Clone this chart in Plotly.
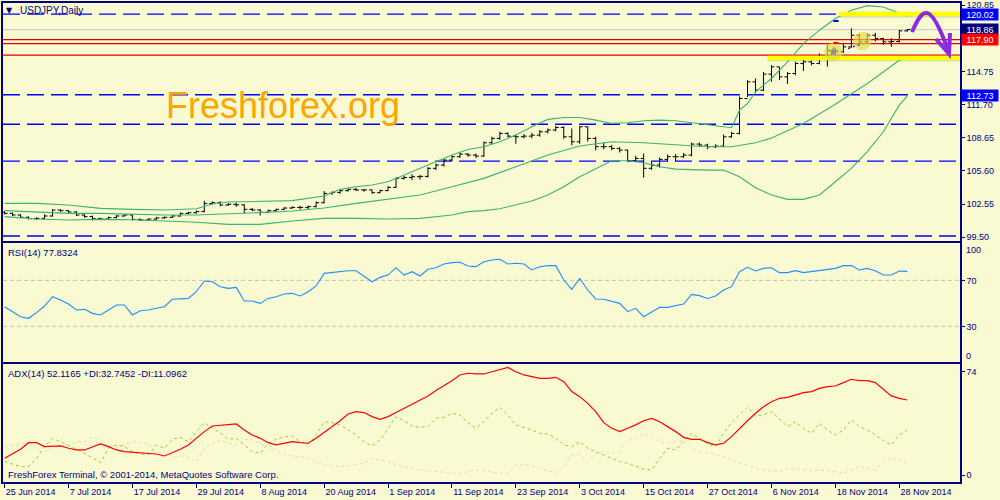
import plotly.graph_objects as go

# ---------------- data ----------------
tick_idx = [0, 8, 16, 24, 32, 40, 48, 56, 64, 72, 80, 88, 96, 104, 112]
tick_text = ["25 Jun 2014", "7 Jul 2014", "17 Jul 2014", "29 Jul 2014", "8 Aug 2014",
             "20 Aug 2014", "1 Sep 2014", "11 Sep 2014", "23 Sep 2014", "3 Oct 2014",
             "15 Oct 2014", "27 Oct 2014", "6 Nov 2014", "18 Nov 2014", "28 Nov 2014"]

opens = [101.80, 101.70, 101.55, 101.34, 101.21, 101.24, 101.46, 102.01, 101.95, 101.83,
         101.55, 101.40, 101.21, 101.18, 101.31, 101.46, 101.55, 101.15, 101.09, 101.18,
         101.28, 101.34, 101.46, 101.70, 101.76, 101.86, 102.62, 102.68, 102.47, 102.53,
         102.48, 102.07, 102.01, 101.80, 101.95, 102.07, 102.19, 102.25, 102.25, 102.32,
         102.68, 103.54, 103.63, 103.79, 103.91, 103.85, 103.85, 103.60, 103.79, 104.09,
         104.92, 105.00, 105.07, 105.10, 105.84, 106.14, 106.60, 106.91, 107.15, 107.06,
         106.97, 108.19, 108.59, 109.05, 108.80, 108.74, 108.80, 108.89, 109.20, 109.36,
         109.60, 108.74, 108.28, 109.66, 108.59, 107.83, 107.83, 107.67, 107.52, 106.54,
         106.75, 105.84, 106.14, 106.66, 106.91, 106.91, 107.06, 108.07, 107.98, 107.83,
         107.89, 108.74, 109.05, 112.26, 113.79, 113.03, 114.50, 115.17, 114.25, 114.56,
         115.48, 115.63, 115.48, 116.09, 116.70, 116.55, 117.01, 118.08, 117.47, 118.08,
         117.77, 117.47, 117.50, 118.48]
highs = [101.88, 101.78, 101.62, 101.42, 101.35, 101.62, 102.08, 102.10, 102.00, 101.90,
         101.62, 101.50, 101.30, 101.40, 101.55, 101.60, 101.60, 101.22, 101.25, 101.38,
         101.42, 101.55, 101.78, 101.85, 101.98, 102.85, 102.80, 102.82, 102.65, 102.70,
         102.55, 102.20, 102.10, 102.05, 102.15, 102.28, 102.35, 102.40, 102.42, 102.80,
         103.75, 103.72, 103.90, 104.00, 104.05, 103.95, 103.90, 103.88, 104.20, 105.00,
         105.15, 105.30, 105.25, 105.95, 106.30, 106.70, 107.05, 107.30, 107.25, 107.20,
         108.30, 108.75, 109.20, 109.15, 108.95, 109.00, 109.10, 109.35, 109.50, 109.75,
         109.70, 109.50, 109.72, 109.70, 108.75, 108.20, 108.00, 107.80, 107.55, 107.00,
         107.20, 106.45, 106.85, 107.10, 107.15, 107.25, 108.20, 108.20, 108.10, 108.05,
         108.95, 109.20, 112.45, 113.95, 114.10, 114.70, 115.33, 115.17, 114.70, 115.65,
         115.80, 115.75, 116.40, 117.20, 116.95, 117.30, 118.70, 118.20, 118.25, 118.30,
         117.85, 117.80, 118.55, 118.65]
lows = [101.60, 101.45, 101.28, 101.15, 101.12, 101.18, 101.40, 101.82, 101.70, 101.45,
        101.30, 101.05, 101.08, 101.10, 101.25, 101.40, 101.05, 101.00, 101.02, 101.10,
        101.20, 101.28, 101.40, 101.62, 101.68, 101.80, 102.50, 102.35, 102.38, 102.30,
        101.70, 101.90, 101.50, 101.72, 101.88, 102.00, 102.12, 102.05, 102.10, 102.25,
        102.62, 103.40, 103.50, 103.70, 103.75, 103.70, 103.50, 103.55, 103.75, 104.05,
        104.80, 104.75, 104.80, 105.00, 105.70, 106.00, 106.50, 106.80, 106.90, 106.80,
        106.90, 108.05, 108.45, 108.70, 108.10, 108.60, 108.60, 108.75, 109.05, 109.25,
        108.55, 107.95, 108.10, 108.30, 107.50, 107.60, 107.50, 107.30, 106.50, 106.40,
        104.98, 105.70, 105.90, 106.50, 106.50, 106.80, 106.95, 107.85, 107.60, 107.70,
        107.80, 108.65, 108.95, 112.40, 112.80, 112.95, 113.80, 113.95, 113.60, 114.40,
        114.80, 115.30, 115.40, 115.20, 116.30, 116.45, 116.90, 117.10, 117.30, 117.50,
        117.20, 117.00, 117.40, 118.40]
closes = [101.70, 101.55, 101.34, 101.21, 101.24, 101.46, 102.01, 101.95, 101.83, 101.55,
          101.40, 101.21, 101.18, 101.31, 101.46, 101.55, 101.15, 101.09, 101.18, 101.28,
          101.34, 101.46, 101.70, 101.76, 101.86, 102.62, 102.68, 102.47, 102.53, 102.48,
          102.07, 102.01, 101.80, 101.95, 102.07, 102.19, 102.25, 102.25, 102.32, 102.68,
          103.54, 103.63, 103.79, 103.91, 103.85, 103.85, 103.60, 103.79, 104.09, 104.92,
          105.00, 105.07, 105.10, 105.84, 106.14, 106.60, 106.91, 107.15, 107.06, 106.97,
          108.19, 108.59, 109.05, 108.80, 108.74, 108.80, 108.89, 109.20, 109.36, 109.60,
          108.74, 108.28, 109.66, 108.59, 107.83, 107.83, 107.67, 107.52, 106.54, 106.75,
          105.84, 106.14, 106.66, 106.91, 106.91, 107.06, 108.07, 107.98, 107.83, 107.89,
          108.74, 109.05, 112.26, 113.79, 113.03, 114.50, 115.17, 114.25, 114.56, 115.48,
          115.63, 115.48, 116.09, 116.70, 116.55, 117.01, 118.08, 117.47, 118.08, 117.77,
          117.47, 117.50, 118.48, 118.60]

bb_upper_idx = [0, 4, 8, 12, 16, 20, 24, 26, 28, 32, 36, 40, 42, 44, 46, 48, 50, 52, 54, 56,
                58, 60, 62, 64, 66, 68, 70, 72, 74, 76, 78, 80, 82, 84, 86, 88, 90, 91, 92, 93,
                94, 96, 98, 100, 102, 104, 106, 108, 110, 112, 113]
bb_upper = [102.62, 102.62, 102.47, 102.16, 102.07, 102.01, 102.13, 102.56, 102.74, 102.78,
            102.87, 103.30, 103.91, 104.15, 104.31, 104.61, 105.22, 105.84, 106.45, 107.06,
            107.58, 107.83, 108.29, 108.90, 109.66, 110.34, 110.52, 110.52, 110.27, 109.97,
            110.03, 110.21, 110.27, 110.21, 110.03, 109.85, 109.66, 109.57, 111.19, 111.80,
            112.88, 114.10, 115.63, 117.31, 118.54, 119.61, 120.38, 120.80, 120.68, 120.07,
            119.82]
bb_mid_idx = [0, 4, 8, 12, 16, 20, 24, 28, 32, 36, 40, 44, 48, 52, 56, 60, 64, 68, 72, 76,
              80, 84, 88, 91, 94, 96, 100, 104, 108, 112, 113]
bb_mid = [101.95, 101.80, 101.70, 101.70, 101.61, 101.55, 101.55, 101.64, 101.77, 101.92,
          102.19, 102.62, 103.02, 103.39, 104.15, 104.92, 105.99, 107.06, 107.89, 108.29,
          108.19, 108.01, 107.83, 107.83, 108.19, 108.62, 109.97, 111.74, 113.64, 115.78,
          116.03]
bb_lower_idx = [0, 4, 8, 12, 16, 20, 24, 28, 32, 36, 40, 44, 48, 52, 56, 58, 60, 62, 64, 66,
                68, 70, 72, 74, 76, 78, 80, 82, 84, 88, 90, 92, 94, 96, 98, 100, 102, 104, 106,
                108, 110, 112, 113]
bb_lower = [101.40, 101.18, 101.09, 101.15, 101.12, 101.03, 100.88, 100.69, 100.69, 101.00,
            101.24, 101.24, 101.18, 101.24, 101.55, 101.86, 101.95, 102.13, 102.47, 102.84,
            103.39, 104.15, 105.07, 105.84, 106.54, 106.54, 106.36, 105.99, 105.77, 105.68,
            105.68, 105.07, 104.06, 103.39, 102.99, 102.99, 103.39, 104.61, 105.84, 107.37,
            109.20, 111.65, 112.48]

rsi = [47.1, 42.8, 38.4, 37.0, 41.9, 47.7, 55.8, 52.9, 49.4, 44.2,
       44.8, 41.3, 39.9, 44.2, 48.6, 48.6, 39.9, 43.6, 44.2, 45.7,
       47.1, 53.5, 53.8, 54.3, 60.1, 69.4, 68.8, 64.5, 63.0, 63.9,
       52.0, 52.0, 50.0, 54.3, 55.8, 58.1, 58.7, 56.4, 60.1, 65.1,
       76.1, 77.0, 77.5, 78.4, 78.4, 73.2, 68.8, 72.6, 74.6, 81.0,
       74.6, 77.5, 73.8, 79.6, 81.0, 84.2, 85.4, 85.7, 82.5, 81.9,
       86.2, 87.7, 88.3, 84.2, 84.8, 84.2, 79.0, 81.9, 82.8, 82.8,
       70.3, 62.2, 71.7, 61.6, 53.8, 53.5, 52.0, 50.0, 42.8, 45.7,
       38.4, 42.2, 46.5, 46.5, 47.7, 49.4, 57.8, 56.7, 54.3, 56.4,
       61.6, 64.5, 77.5, 81.3, 78.1, 80.4, 81.0, 76.7, 76.7, 78.4,
       76.7, 77.5, 78.4, 79.6, 80.4, 82.8, 82.8, 79.0, 80.4, 78.4,
       74.6, 74.6, 78.1, 77.8]

adx = [12.1, 15.2, 18.6, 23.3, 23.3, 20.5, 21.0, 21.0, 19.3, 18.1,
       18.1, 20.5, 22.4, 20.5, 18.1, 16.9, 16.4, 16.4, 15.7, 15.2,
       13.8, 16.2, 18.6, 21.7, 26.4, 31.2, 35.2, 35.7, 36.0, 36.7,
       32.4, 28.8, 26.4, 23.3, 21.7, 22.9, 24.0, 23.3, 22.9, 26.4,
       30.5, 34.8, 39.0, 43.8, 45.5, 44.8, 41.9, 40.0, 41.9, 44.8,
       47.9, 51.0, 53.8, 56.7, 60.5, 64.0, 67.6, 71.7, 72.9, 72.4,
       72.4, 74.0, 75.7, 77.1, 74.0, 71.7, 70.5, 69.3, 69.3, 70.0,
       66.9, 59.8, 56.2, 51.4, 45.5, 37.6, 33.6, 31.2, 33.6, 36.0,
       39.0, 40.7, 38.3, 34.8, 31.2, 27.1, 25.7, 25.7, 23.3, 21.7,
       22.9, 27.6, 33.6, 39.0, 44.3, 49.0, 52.6, 55.0, 55.7, 57.4,
       59.0, 59.8, 62.1, 63.3, 63.8, 66.2, 68.6, 67.6, 67.6, 66.2,
       61.4, 56.7, 55.0, 53.8]
plus_di = [9.8, 8.1, 6.2, 6.2, 12.1, 20.5, 26.4, 24.0, 21.0, 18.6,
           15.7, 12.1, 9.0, 19.3, 21.7, 20.5, 16.9, 15.2, 14.5, 21.7,
           19.3, 25.7, 27.1, 24.0, 31.2, 37.6, 33.6, 30.5, 25.7, 26.4,
           21.7, 16.9, 15.7, 22.9, 25.7, 27.6, 28.1, 24.0, 22.4, 28.8,
           38.3, 37.6, 36.0, 32.4, 28.8, 24.0, 21.0, 25.2, 33.6, 41.9,
           39.0, 35.2, 34.3, 34.8, 40.7, 41.4, 44.3, 43.1, 37.6, 33.6,
           38.3, 44.3, 48.6, 43.1, 36.0, 34.3, 32.4, 30.0, 29.5, 26.4,
           21.7, 20.5, 24.0, 19.3, 16.9, 14.5, 12.1, 9.8, 8.6, 6.2,
           4.3, 3.8, 12.1, 19.3, 18.1, 24.0, 30.0, 26.4, 22.4, 20.5,
           30.0, 37.6, 43.1, 48.6, 42.4, 43.1, 45.5, 40.0, 34.8, 38.3,
           33.6, 30.0, 37.1, 32.4, 28.8, 32.4, 39.5, 34.8, 32.4, 28.8,
           24.8, 21.7, 28.8, 32.4]
minus_di = [20.5, 21.7, 22.9, 23.3, 19.3, 16.9, 19.3, 21.0, 21.7, 24.0,
            24.0, 27.6, 25.2, 20.5, 20.5, 21.7, 24.0, 23.3, 22.9, 15.7,
            16.9, 13.3, 13.8, 12.9, 9.8, 19.3, 22.9, 25.2, 22.9, 21.7,
            25.7, 25.2, 22.9, 19.3, 18.1, 15.2, 13.8, 13.3, 12.1, 9.8,
            7.4, 6.7, 6.2, 6.7, 7.4, 8.6, 12.1, 11.0, 9.8, 7.4,
            6.2, 5.0, 3.8, 3.3, 2.6, 1.9, 1.4, 1.4, 2.6, 3.8,
            3.3, 2.6, 1.4, 1.4, 7.4, 7.9, 6.2, 5.0, 3.3, 1.9,
            6.2, 14.5, 15.2, 9.8, 15.7, 16.9, 15.7, 16.9, 25.2, 25.7,
            30.0, 27.6, 24.0, 22.9, 24.0, 25.2, 19.3, 16.9, 16.4, 14.5,
            13.3, 11.0, 8.6, 7.4, 5.0, 3.8, 3.3, 2.6, 5.0, 4.3,
            3.8, 3.3, 3.8, 3.3, 2.6, 1.4, 3.8, 6.2, 5.0, 3.8,
            9.8, 12.1, 11.4, 9.0]

price_ticks = [99.50, 102.55, 105.60, 108.65, 111.70, 114.75, 120.85]
blue_levels = [120.02, 112.60, 109.90, 106.50, 99.62]
red_levels = [117.68, 117.31, 116.24]
bid_level = 118.60
yellow_levels = [120.02, 115.99]
yellow_start = [104.5, 95.5]
box_labels = [("120.02", 120.00, "#0000FF"), ("118.86", 118.63, "#00007A"),
              ("117.90", 117.66, "#FF0000"), ("112.73", 112.56, "#0000FF")]
circle_centers = [(103.75, 116.54), (107.35, 117.55)]

bar_x = list(range(len(closes)))

BG = "#FAFAD2"
NAVY = "#000080"
FONT = "Liberation Sans, Arial, sans-serif"
X_RANGE = [-0.2, 119.6]

# layout helpers (pixel -> paper)
def px_x(px):
    return (px - 3) / 957.0

def px_y(py):
    return (482 - py) / 479.0

fig = go.Figure()

fig.add_trace(go.Ohlc(x=bar_x, open=opens, high=highs, low=lows, close=closes,
                      increasing=dict(line=dict(color="black", width=1)),
                      decreasing=dict(line=dict(color="black", width=1)),
                      tickwidth=0.38, xaxis="x", yaxis="y", hoverinfo="skip"))
for ix, vals in [(bb_upper_idx, bb_upper), (bb_mid_idx, bb_mid), (bb_lower_idx, bb_lower)]:
    fig.add_trace(go.Scatter(x=ix, y=vals, mode="lines",
                             line=dict(color="#3CB371", width=1.1),
                             xaxis="x", yaxis="y", hoverinfo="skip"))

fig.add_trace(go.Scatter(x=bar_x, y=rsi, mode="lines", line=dict(color="#1E90FF", width=1.1),
                         xaxis="x2", yaxis="y2", hoverinfo="skip"))

fig.add_trace(go.Scatter(x=bar_x, y=minus_di, mode="lines",
                         line=dict(color="#F5D3B0", width=1, dash="3px,3px"),
                         xaxis="x3", yaxis="y3", hoverinfo="skip"))
fig.add_trace(go.Scatter(x=bar_x, y=plus_di, mode="lines",
                         line=dict(color="#9ACD32", width=1, dash="3px,3px"),
                         xaxis="x3", yaxis="y3", hoverinfo="skip"))
fig.add_trace(go.Scatter(x=bar_x, y=adx, mode="lines", line=dict(color="#FF0000", width=1.2),
                         xaxis="x3", yaxis="y3", hoverinfo="skip"))

# trade marker
fig.add_trace(go.Scatter(x=[circle_centers[0][0]], y=[circle_centers[0][1]], mode="markers",
                         marker=dict(symbol="star", size=8, color="#0000FF"),
                         xaxis="x", yaxis="y", hoverinfo="skip"))

shapes = []
for lv in blue_levels:
    shapes.append(dict(type="line", xref="x domain", yref="y", x0=0, x1=1, y0=lv, y1=lv,
                       line=dict(color="#0000FF", width=1.4, dash="17px,7px"), layer="below"))
for lv in red_levels:
    shapes.append(dict(type="line", xref="x domain", yref="y", x0=0, x1=1, y0=lv, y1=lv,
                       line=dict(color="#E00000", width=1.2), layer="below"))
shapes.append(dict(type="line", xref="x domain", yref="y", x0=0, x1=1, y0=bid_level, y1=bid_level,
                   line=dict(color="#D0D0D0", width=1.2), layer="below"))
for lv in [70, 30]:
    shapes.append(dict(type="line", xref="x2 domain", yref="y2", x0=0, x1=1, y0=lv, y1=lv,
                       line=dict(color="#C0C0C0", width=1, dash="4px,3px"), layer="below"))
# yellow drawn levels
for lv, x0 in zip(yellow_levels, yellow_start):
    shapes.append(dict(type="line", xref="x", yref="y", x0=x0, x1=X_RANGE[1], y0=lv - 0.2, y1=lv - 0.2,
                       line=dict(color="rgba(0,0,0,0.12)", width=3), layer="above"))
    shapes.append(dict(type="line", xref="x", yref="y", x0=x0, x1=X_RANGE[1], y0=lv, y1=lv,
                       line=dict(color="#FFFF00", width=4.5), layer="above"))
# highlight circles
for cx, cy in circle_centers:
    shapes.append(dict(type="circle", xref="x", yref="y", x0=cx - 1.15, x1=cx + 1.15,
                       y0=cy - 0.85, y1=cy + 0.85, fillcolor="rgba(225,220,70,0.65)",
                       line=dict(width=0), layer="above"))
# small trade marks
shapes.append(dict(type="line", xref="x", yref="y", x0=103.75, x1=104.4, y0=119.39, y1=119.39,
                   line=dict(color="#0000FF", width=2)))
shapes.append(dict(type="line", xref="x", yref="y", x0=103.75, x1=104.4, y0=117.37, y1=117.37,
                   line=dict(color="#FF0000", width=2)))
shapes.append(dict(type="line", xref="x", yref="y", x0=105.6, x1=106.9, y0=116.85, y1=117.2,
                   line=dict(color="#0000FF", width=1.5, dash="2px,3px")))

# purple hand-drawn arrow (pixel positions)
def P(x, y):
    return f"{px_x(x):.5f},{px_y(y):.5f}"

arrow_color = "#8A2BE2"
shapes.append(dict(type="path", xref="paper", yref="paper",
                   path=f"M {P(912,32)} C {P(918,18)} {P(922,12)} {P(927,13)} C {P(934,14)} {P(942,33)} {P(949,53)}",
                   line=dict(color=arrow_color, width=4)))
shapes.append(dict(type="path", xref="paper", yref="paper",
                   path=f"M {P(936,39)} L {P(949,54)} L {P(950,33)}",
                   line=dict(color=arrow_color, width=4)))

annotations = []
annotations.append(dict(text="▼", x=px_x(9.5), y=px_y(10.5), xref="paper", yref="paper",
                        showarrow=False, xanchor="center", yanchor="middle",
                        font=dict(family="DejaVu Sans", size=8, color=NAVY)))
annotations.append(dict(text="USDJPY,Daily", x=px_x(17.5), y=px_y(10.5), xref="paper", yref="paper",
                        showarrow=False, xanchor="left", yanchor="middle",
                        font=dict(family=FONT, size=10, color=NAVY)))
annotations.append(dict(text="RSI(14) 77.8324", x=px_x(6), y=px_y(252), xref="paper", yref="paper",
                        showarrow=False, xanchor="left", yanchor="middle",
                        font=dict(family=FONT, size=9.5, color=NAVY)))
annotations.append(dict(text="ADX(14) 52.1165 +DI:32.7452 -DI:11.0962", x=px_x(6), y=px_y(373),
                        xref="paper", yref="paper", showarrow=False, xanchor="left", yanchor="middle",
                        font=dict(family=FONT, size=9.5, color=NAVY)))
annotations.append(dict(text="FreshForex Terminal, © 2001-2014, MetaQuotes Software Corp.",
                        x=px_x(6), y=px_y(474), xref="paper", yref="paper", showarrow=False,
                        xanchor="left", yanchor="middle", font=dict(family=FONT, size=9.5, color=NAVY)))
annotations.append(dict(text="Freshforex.org", x=px_x(164), y=px_y(105.5), xref="paper", yref="paper",
                        showarrow=False, xanchor="left", yanchor="middle",
                        font=dict(family=FONT, size=36, color="#FFA500")))
for txt, yv, col in box_labels:
    annotations.append(dict(text=txt, x=px_x(961), y=yv, xref="paper", yref="y", showarrow=False,
                            xanchor="left", yanchor="middle", bgcolor=col, width=36, height=11,
                            borderpad=0, font=dict(family=FONT, size=9, color="white")))
annotations.append(dict(text="100", x=px_x(964), y=px_y(250), xref="paper", yref="paper",
                        showarrow=False, xanchor="left", yanchor="middle",
                        font=dict(family=FONT, size=9, color=NAVY)))
annotations.append(dict(text="0", x=px_x(964), y=px_y(356), xref="paper", yref="paper",
                        showarrow=False, xanchor="left", yanchor="middle",
                        font=dict(family=FONT, size=9, color=NAVY)))

axis_common = dict(showgrid=False, zeroline=False, showline=True, mirror=True,
                   linecolor=NAVY, linewidth=1.5, automargin=False)
tickfont = dict(family=FONT, size=9, color=NAVY)

fig.update_layout(
    width=1000, height=500,
    margin=dict(l=3, r=40, t=3, b=18, autoexpand=False),
    paper_bgcolor=BG, plot_bgcolor=BG,
    showlegend=False, hovermode=False,
    shapes=shapes, annotations=annotations,
    xaxis=dict(domain=[0, 1], range=X_RANGE, anchor="y", showticklabels=False,
               rangeslider=dict(visible=False), **axis_common),
    xaxis2=dict(domain=[0, 1], matches="x", anchor="y2", showticklabels=False, **axis_common),
    xaxis3=dict(domain=[0, 1], matches="x", anchor="y3", tickmode="array", tickvals=tick_idx,
                ticktext=tick_text, ticks="outside", ticklen=4, tickcolor=NAVY,
                ticklabelposition="outside right", tickfont=tickfont, **axis_common),
    yaxis=dict(domain=[0.5038, 1.0], range=[99.19, 121.04], anchor="x", side="right",
               tickmode="array", tickvals=price_ticks, ticktext=[f"{v:.2f}" for v in price_ticks],
               ticks="outside", ticklen=3, tickcolor=NAVY, tickfont=tickfont, **axis_common),
    yaxis2=dict(domain=[0.2505, 0.4983], range=[-1.0, 102.2], anchor="x2", side="right",
                tickmode="array", tickvals=[70, 30], ticks="outside", ticklen=3, tickcolor=NAVY,
                tickfont=tickfont, **axis_common),
    yaxis3=dict(domain=[0.0, 0.2463], range=[-4.8, 79.5], anchor="x3", side="right",
                tickmode="array", tickvals=[74, 0], ticks="outside", ticklen=3, tickcolor=NAVY,
                tickfont=tickfont, **axis_common),
)

fig.write_html("out.html",
               config={"displayModeBar": False},
               post_script="document.body.style.margin='0';document.body.style.background='" + BG + "';")
